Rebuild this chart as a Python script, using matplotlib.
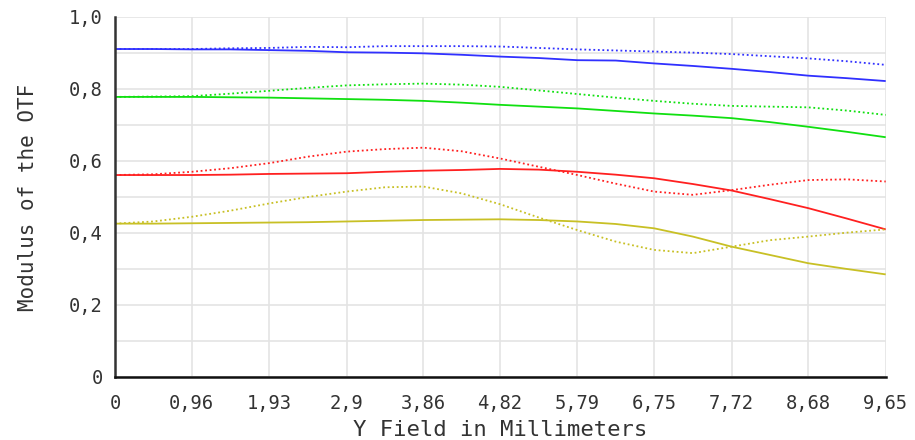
import matplotlib.pyplot as plt
import numpy as np

# Y field positions (mm), ticks and half-ticks
field = [0, 0.48, 0.96, 1.445, 1.93, 2.415, 2.9, 3.38, 3.86, 4.34, 4.82,
         5.305, 5.79, 6.27, 6.75, 7.235, 7.72, 8.2, 8.68, 9.165, 9.65]

blue_t = [0.911, 0.911, 0.910, 0.910, 0.908, 0.906, 0.902, 0.901, 0.899, 0.895, 0.890,
          0.886, 0.880, 0.879, 0.871, 0.864, 0.856, 0.847, 0.837, 0.830, 0.822]
blue_s = [0.911, 0.911, 0.911, 0.913, 0.914, 0.917, 0.916, 0.919, 0.919, 0.919, 0.918,
          0.914, 0.910, 0.907, 0.904, 0.901, 0.897, 0.891, 0.885, 0.877, 0.867]
green_t = [0.778, 0.778, 0.778, 0.777, 0.776, 0.774, 0.772, 0.770, 0.767, 0.762, 0.756,
           0.751, 0.746, 0.739, 0.732, 0.726, 0.719, 0.708, 0.695, 0.681, 0.666]
green_s = [0.778, 0.779, 0.780, 0.787, 0.795, 0.803, 0.810, 0.813, 0.815, 0.812, 0.806,
           0.796, 0.786, 0.776, 0.767, 0.759, 0.753, 0.751, 0.749, 0.740, 0.728]
red_t = [0.561, 0.561, 0.561, 0.562, 0.564, 0.565, 0.566, 0.570, 0.573, 0.575, 0.578,
         0.576, 0.570, 0.562, 0.552, 0.536, 0.518, 0.494, 0.469, 0.440, 0.410]
red_s = [0.561, 0.563, 0.570, 0.580, 0.594, 0.612, 0.626, 0.633, 0.637, 0.627, 0.607,
         0.584, 0.561, 0.537, 0.515, 0.506, 0.519, 0.534, 0.547, 0.549, 0.543]
yel_t = [0.426, 0.426, 0.427, 0.428, 0.429, 0.430, 0.432, 0.434, 0.436, 0.437, 0.438,
         0.436, 0.432, 0.425, 0.413, 0.390, 0.362, 0.339, 0.316, 0.300, 0.285]
yel_s = [0.426, 0.432, 0.445, 0.462, 0.482, 0.500, 0.515, 0.527, 0.529, 0.510, 0.480,
         0.443, 0.408, 0.376, 0.353, 0.344, 0.362, 0.380, 0.390, 0.401, 0.410]

xticks = [0, 0.96, 1.93, 2.9, 3.86, 4.82, 5.79, 6.75, 7.72, 8.68, 9.65]
xlabels = ['0', '0,96', '1,93', '2,9', '3,86', '4,82', '5,79', '6,75', '7,72', '8,68', '9,65']
yticks = [0, 0.2, 0.4, 0.6, 0.8, 1.0]
ylabels = ['0', '0,2', '0,4', '0,6', '0,8', '1,0']

plt.rcParams['font.family'] = 'DejaVu Sans Mono'
fig = plt.figure(figsize=(9.15, 4.4), dpi=100)
ax = fig.add_axes([0.1257, 0.1432, 0.8423, 0.8182])

series = [
    (blue_t, blue_s, '#3030ff'),
    (green_t, green_s, '#10e010'),
    (red_t, red_s, '#ff2020'),
    (yel_t, yel_s, '#c8c025'),
]
for t, s, c in series:
    ax.plot(field, t, color=c, lw=1.3, solid_capstyle='butt')
    ax.plot(field, s, color=c, lw=1.3, linestyle=(0, (1, 1.5)))

ax.set_xlim(0, 9.65)
ax.set_ylim(0, 1.0)
ax.set_xticks(xticks)
ax.set_xticklabels(xlabels)
ax.set_yticks(yticks)
ax.set_yticklabels(ylabels)
ax.set_yticks(np.arange(0.1, 1.0, 0.2), minor=True)
ax.tick_params(which='both', length=0, labelsize=13.5, colors='#333333')
ax.tick_params(axis='y', pad=9)
ax.tick_params(axis='x', pad=12)
ax.grid(True, which='both', color='#e4e4e4', lw=1.2)
ax.set_axisbelow(True)

for side in ['top', 'right']:
    ax.spines[side].set_visible(False)
ax.spines['left'].set_color('#333333')
ax.spines['left'].set_linewidth(1.8)
ax.spines['bottom'].set_color('#111111')
ax.spines['bottom'].set_linewidth(1.8)

ax.set_xlabel('Y Field in Millimeters', fontsize=16, color='#333333', labelpad=5)
ax.set_ylabel('Modulus of the OTF', fontsize=15, color='#333333', labelpad=22)

fig.savefig('out.png', dpi=100)
